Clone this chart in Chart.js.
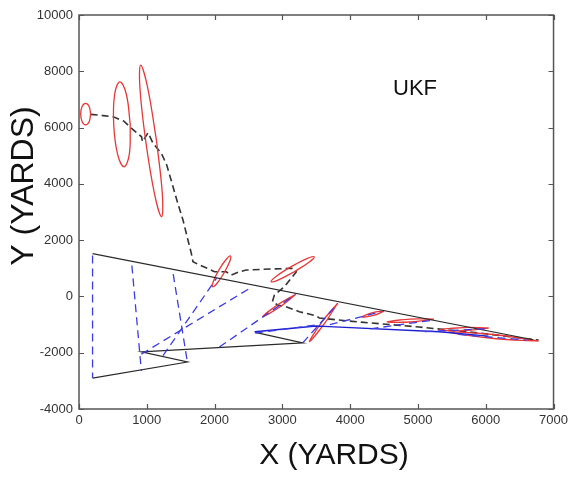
<!DOCTYPE html>
<html>
<head>
<meta charset="utf-8">
<script src="https://cdn.jsdelivr.net/npm/chart.js@4/dist/chart.umd.min.js"></script>
<style>
html,body{margin:0;padding:0;background:#fff;}
#wrap{position:relative;width:572px;height:480px;}
</style>
</head>
<body>
<div id="wrap"><canvas id="c" width="572" height="480"></canvas></div>
<script>
// ---- axis ticks ----
const xTicks = [0, 1000, 2000, 3000, 4000, 5000, 6000, 7000];
const yTicks = [-4000, -2000, 0, 2000, 4000, 6000, 8000, 10000];

// ---- true target track (black solid) ----
const trueTrackX = [200, 6700];
const trueTrackY = [1520, -1540];

// ---- observer zig-zag (black solid) ----
const observerX = [200, 1600, 920, 3300, 2600];
const observerY = [-2900, -2330, -1970, -1650, -1280];

// ---- blue solid track ----
const blueTrackX = [2590, 3500, 3690, 5310, 6040];
const blueTrackY = [-1255, -1050, -1075, -1255, -1410];

// ---- UKF estimate (black dashed) ----
const estX = [172, 358, 505, 662, 775, 922, 937, 1019, 1093, 1216, 1294, 1387, 1456, 1534, 1607, 1657, 1681, 1779, 1882, 1999, 2172, 2246, 2368, 2466, 2809, 3152, 3206, 3029, 2882, 2853, 2931, 3054, 3250, 3496, 3544, 4132, 5015, 5897, 6779];
const estY = [6468, 6426, 6383, 6230, 5971, 5673, 5495, 5815, 5438, 5083, 4667, 3897, 3318, 2714, 2003, 1531, 1233, 1115, 1009, 877, 877, 760, 877, 938, 973, 998, 877, 345, 50, -188, -305, -366, -543, -686, -767, -909, -1087, -1300, -1549];

// ---- bearing lines (blue dashed): x1, y1, x2, y2 ----
const bearingLines = [
  [200, 1450, 200, -2900],
  [780, 1100, 920, -2650],
  [1390, 790, 1600, -2350],
  [1240, -2100, 2030, 650],
  [920, -2050, 2520, 290],
  [2070, -1800, 3180, 50],
  [3300, -1650, 3820, -250],
  [2600, -1300, 3550, -1000],
  [3700, -1000, 4450, -550],
  [4300, -1150, 5200, -850],
  [5100, -1250, 6000, -1150],
  [5600, -1350, 6600, -1550]
];

// ---- covariance ellipses (red), outline points ----
const ell1X = [171, 150, 98, 46, 25, 46, 98, 150, 171];
const ell1Y = [6480, 6210, 6100, 6210, 6480, 6750, 6860, 6750, 6480];
const ell2X = [756, 742, 665, 570, 512, 526, 603, 698, 756];
const ell2Y = [6117, 5049, 4607, 5049, 6117, 7185, 7627, 7185, 6117];
const ell3X = [1144, 1230, 1218, 1116, 984, 898, 910, 1012, 1144];
const ell3Y = [5525, 3619, 2830, 3619, 5525, 7431, 8220, 7431, 5525];
const ell4X = [2141, 2037, 1971, 1983, 2065, 2169, 2235, 2223, 2141];
const ell4Y = [839, 469, 345, 541, 941, 1311, 1435, 1239, 839];
const ell5X = [3174, 2943, 2834, 2911, 3130, 3361, 3470, 3393, 3174];
const ell5Y = [874, 587, 522, 717, 1058, 1345, 1410, 1215, 874];
const ell6X = [3200, 2967, 2710, 2943, 3200];
const ell6Y = [75, -367, -721, -279, 75];
const ell7X = [3813, 3623, 3397, 3587, 3813];
const ell7Y = [-245, -957, -1609, -897, -245];
const ell8X = [4500, 4344, 4176, 4332, 4500];
const ell8Y = [-519, -677, -732, -575, -519];
const ell9X = [5235, 4890, 4544, 4890, 5235];
const ell9Y = [-803, -909, -909, -803, -803];
const ell10X = [6044, 5676, 5309, 5676, 6044];
const ell10Y = [-1122, -1211, -1193, -1105, -1122];
const ell11X = [6779, 6118, 5456, 6118, 6779];
const ell11Y = [-1584, -1495, -1264, -1353, -1584];

const ellipsesX = [ell1X, ell2X, ell3X, ell4X, ell5X, ell6X, ell7X, ell8X, ell9X, ell10X, ell11X];
const ellipsesY = [ell1Y, ell2Y, ell3Y, ell4Y, ell5Y, ell6Y, ell7Y, ell8Y, ell9Y, ell10Y, ell11Y];

// ---- build datasets ----
function pts(xs, ys) { return xs.map((x, i) => ({x: x, y: ys[i]})); }
const BLACK = '#2a2a2a';
const BLUE = 'rgb(60,60,228)';
const RED = 'rgb(232,55,55)';

const datasets = [];
bearingLines.forEach(s => {
  datasets.push({data: [{x: s[0], y: s[1]}, {x: s[2], y: s[3]}], borderColor: BLUE, borderWidth: 1.3, borderDash: [8, 5], showLine: true, pointRadius: 0, tension: 0});
});
datasets.push({data: pts(trueTrackX, trueTrackY), borderColor: BLACK, borderWidth: 1.2, showLine: true, pointRadius: 0, tension: 0});
datasets.push({data: pts(observerX, observerY), borderColor: BLACK, borderWidth: 1.2, showLine: true, pointRadius: 0, tension: 0});
datasets.push({data: pts(blueTrackX, blueTrackY), borderColor: 'rgb(30,30,210)', borderWidth: 1.3, showLine: true, pointRadius: 0, tension: 0});
ellipsesX.forEach((ex, i) => {
  datasets.push({data: pts(ex, ellipsesY[i]), borderColor: RED, borderWidth: 1.3, showLine: true, pointRadius: 0, tension: 0.4});
});
datasets.push({data: pts(estX, estY), borderColor: '#333', borderWidth: 1.6, borderDash: [7, 4], showLine: true, pointRadius: 0, tension: 0});

const AREA = {left: 79, right: 555, top: 15, bottom: 409};

const boxPlugin = {
  id: 'boxTicks',
  afterDraw(chart) {
    const ctx = chart.ctx;
    const a = chart.chartArea;
    const xs = chart.scales.x, ys = chart.scales.y;
    ctx.save();
    ctx.strokeStyle = '#555';
    ctx.lineWidth = 1.5;
    ctx.setLineDash([]);
    ctx.strokeRect(a.left, a.top, a.right - a.left, a.bottom - a.top);
    ctx.lineWidth = 1.2;
    const L = 5;
    ctx.beginPath();
    xTicks.forEach(v => {
      const px = Math.round(xs.getPixelForValue(v)) + 0.5;
      ctx.moveTo(px, a.bottom); ctx.lineTo(px, a.bottom - L);
      ctx.moveTo(px, a.top); ctx.lineTo(px, a.top + L);
    });
    yTicks.forEach(v => {
      const py = Math.round(ys.getPixelForValue(v)) + 0.5;
      ctx.moveTo(a.left, py); ctx.lineTo(a.left + L, py);
      ctx.moveTo(a.right, py); ctx.lineTo(a.right - L, py);
    });
    ctx.stroke();
    // texts
    ctx.fillStyle = '#111';
    ctx.textAlign = 'center';
    ctx.textBaseline = 'middle';
    ctx.font = '22px "Liberation Sans", Arial, sans-serif';
    ctx.fillText('UKF', 415, 89);
    ctx.font = '30px "Liberation Sans", Arial, sans-serif';
    ctx.fillText('X (YARDS)', 334, 456);
    ctx.translate(24, 186);
    ctx.rotate(-Math.PI / 2);
    ctx.font = '32px "Liberation Sans", Arial, sans-serif';
    ctx.fillText('Y (YARDS)', 0, 0);
    ctx.restore();
  }
};

new Chart(document.getElementById('c'), {
  type: 'scatter',
  data: {datasets: datasets},
  options: {
    responsive: false,
    animation: false,
    devicePixelRatio: 1,
    layout: {padding: {left: 0, top: AREA.top, right: 572 - AREA.right, bottom: 0}},
    plugins: {legend: {display: false}, tooltip: {enabled: false}},
    elements: {line: {capBezierPoints: false}},
    scales: {
      x: {
        type: 'linear', min: 0, max: 7000,
        afterBuildTicks: s => { s.ticks = xTicks.map(v => ({value: v})); },
        ticks: {callback: v => String(v), color: '#333', font: {size: 13, family: '"Liberation Sans", Arial, sans-serif'}, padding: 4, maxRotation: 0, autoSkip: false},
        grid: {display: false, drawTicks: false},
        border: {display: false},
        afterFit: s => { s.height = 480 - AREA.bottom; }
      },
      y: {
        type: 'linear', min: -4000, max: 10000,
        afterBuildTicks: s => { s.ticks = yTicks.map(v => ({value: v})); },
        ticks: {callback: v => String(v), color: '#333', font: {size: 13, family: '"Liberation Sans", Arial, sans-serif'}, padding: 6, autoSkip: false},
        grid: {display: false, drawTicks: false},
        border: {display: false},
        afterFit: s => { s.width = AREA.left; }
      }
    }
  },
  plugins: [boxPlugin]
});
</script>
</body>
</html>
